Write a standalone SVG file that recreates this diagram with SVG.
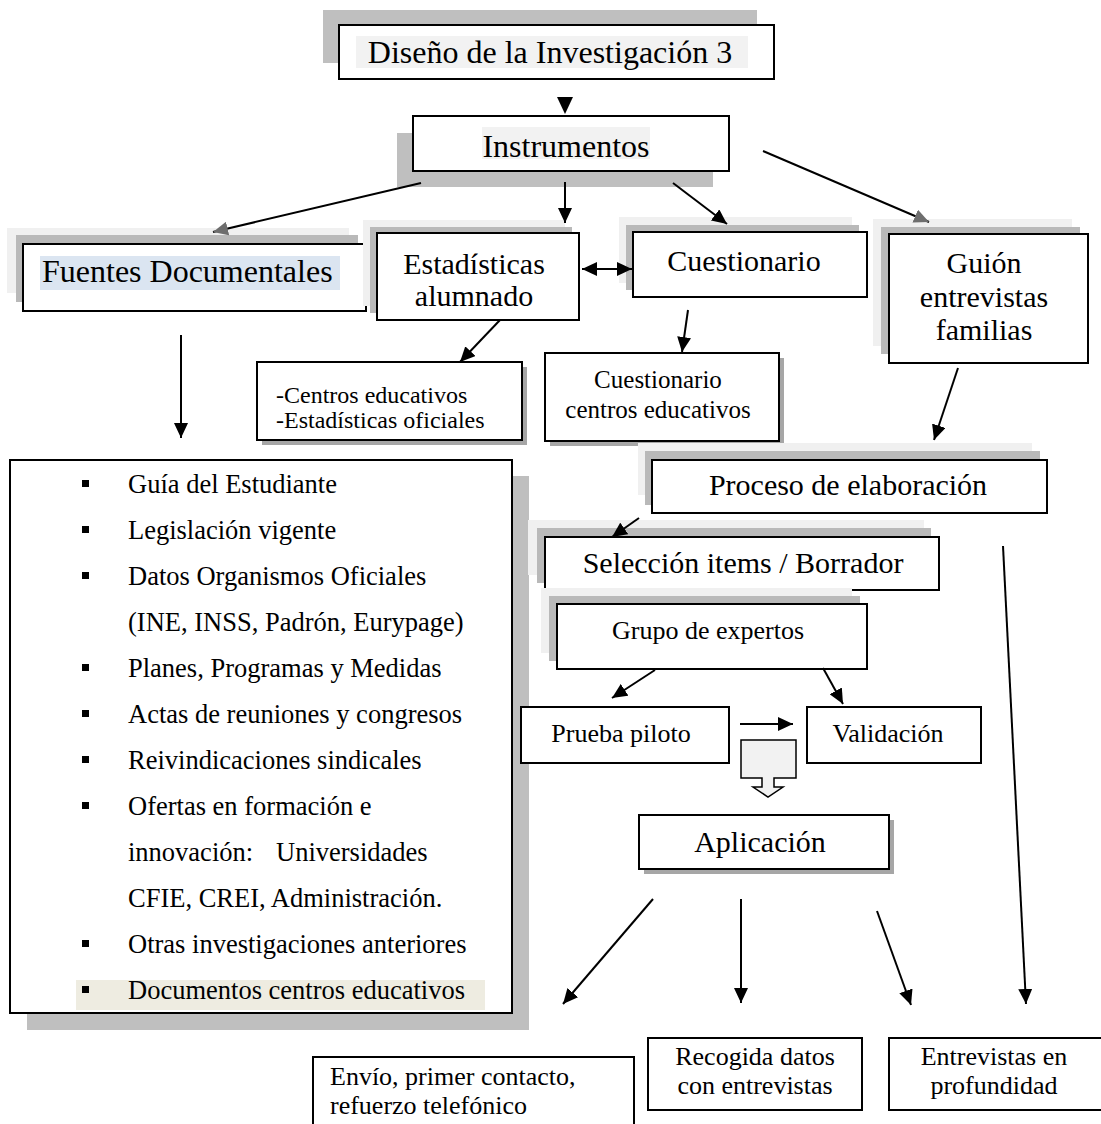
<svg xmlns="http://www.w3.org/2000/svg" width="1101" height="1124" viewBox="0 0 1101 1124">
  <style>
    text { font-family: "Liberation Serif", "Times New Roman", serif; fill: #000; }
    .box { fill: #fff; stroke: #000; stroke-width: 2; }
    .sh-dark { fill: #b9b9b9; }
    .sh-light { fill: #f0f0f0; }
    .sh-drop { fill: #a6a6a6; }
    .t32 { font-size: 32px; }
    .t30 { font-size: 30px; }
    .t26 { font-size: 26px; }
    .t25 { font-size: 25px; }
    .t24 { font-size: 24px; }
    .mid { text-anchor: middle; }
    .edge { fill: none; stroke: #000; stroke-width: 2; }
    .bul { fill: #000; }
  </style>
  <defs>
    <marker id="ah" markerUnits="userSpaceOnUse" markerWidth="16" markerHeight="14" refX="15" refY="7" orient="auto-start-reverse">
      <path d="M0,0 L15,7 L0,14 z" fill="#000"/>
    </marker>
    <marker id="ahGrey" markerUnits="userSpaceOnUse" markerWidth="16" markerHeight="14" refX="15" refY="7" orient="auto">
      <path d="M0,0 L15,7 L0,14 z" fill="#6e6e6e"/>
    </marker>
  </defs>

  <!-- List of documentary sources (drawn first so later boxes sit over its shadow) -->
  <g id="n-lista">
    <rect x="27" y="476" width="502" height="554" fill="#bfbfbf"/>
    <rect class="box" x="10" y="460" width="502" height="553"/>
    <rect x="76" y="980" width="409" height="30" fill="#eeece1"/>
    <g style="font-size:26.5px">
      <rect class="bul" x="82" y="480" width="7" height="7"/>
      <text x="128" y="493">Guía del Estudiante</text>
      <rect class="bul" x="82" y="526" width="7" height="7"/>
      <text x="128" y="539">Legislación vigente</text>
      <rect class="bul" x="82" y="572" width="7" height="7"/>
      <text x="128" y="585">Datos Organismos Oficiales</text>
      <text x="128" y="631">(INE, INSS, Padrón, Eurypage)</text>
      <rect class="bul" x="82" y="664" width="7" height="7"/>
      <text x="128" y="677">Planes, Programas y Medidas</text>
      <rect class="bul" x="82" y="710" width="7" height="7"/>
      <text x="128" y="723">Actas de reuniones y congresos</text>
      <rect class="bul" x="82" y="756" width="7" height="7"/>
      <text x="128" y="769">Reivindicaciones sindicales</text>
      <rect class="bul" x="82" y="802" width="7" height="7"/>
      <text x="128" y="815">Ofertas en formación e</text>
      <text x="128" y="861">innovación:<tspan x="276">Universidades</tspan></text>
      <text x="128" y="907">CFIE, CREI, Administración.</text>
      <rect class="bul" x="82" y="940" width="7" height="7"/>
      <text x="128" y="953">Otras investigaciones anteriores</text>
      <rect class="bul" x="82" y="986" width="7" height="7"/>
      <text x="128" y="999">Documentos centros educativos</text>
    </g>
  </g>

  <!-- Title -->
  <g id="n-diseno">
    <rect x="323" y="10" width="434" height="53" fill="#bfbfbf"/>
    <rect class="box" x="339" y="25" width="435" height="54"/>
    <rect x="356" y="36" width="392" height="32" fill="#f2f2f2"/>
    <text class="t32 mid" x="550" y="63">Diseño de la Investigación 3</text>
  </g>
  <polygon points="557,97 573,97 565,114" fill="#000"/>

  <!-- Instrumentos -->
  <g id="n-instrumentos">
    <rect x="397" y="133" width="316" height="54" fill="#bfbfbf"/>
    <rect class="box" x="413" y="116" width="316" height="55"/>
    <rect x="482" y="127" width="168" height="32" fill="#f2f2f2"/>
    <text class="t32 mid" x="566" y="157">Instrumentos</text>
  </g>

  <!-- Fuentes Documentales -->
  <g id="n-fuentes">
    <rect class="sh-light" x="7" y="228" width="342" height="65"/>
    <rect class="sh-dark" x="16" y="235" width="342" height="67"/>
    <rect class="box" x="23" y="244" width="343" height="67"/>
    <rect x="40" y="256" width="300" height="34" fill="#dbe5f1"/>
    <text class="t32" x="42" y="282">Fuentes Documentales</text>
  </g>

  <!-- Estadísticas alumnado -->
  <g id="n-estadisticas">
    <rect class="sh-light" x="363" y="220" width="202" height="86"/>
    <rect class="sh-dark" x="370" y="227" width="202" height="86"/>
    <rect class="box" x="377" y="233" width="202" height="87"/>
    <text class="t30 mid" x="474" y="274">Estadísticas</text>
    <text class="t30 mid" x="474" y="306">alumnado</text>
  </g>

  <!-- Cuestionario -->
  <g id="n-cuestionario">
    <rect class="sh-light" x="619" y="217" width="233" height="66"/>
    <rect class="sh-dark" x="626" y="225" width="233" height="65"/>
    <rect class="box" x="633" y="232" width="234" height="65"/>
    <text class="t30 mid" x="744" y="271">Cuestionario</text>
  </g>

  <!-- Guión entrevistas familias -->
  <g id="n-guion">
    <rect class="sh-light" x="873" y="219" width="199" height="127"/>
    <rect class="sh-dark" x="881" y="227" width="199" height="127"/>
    <rect class="box" x="889" y="234" width="199" height="129"/>
    <text class="t30 mid" x="984" y="273">Guión</text>
    <text class="t30 mid" x="984" y="307">entrevistas</text>
    <text class="t30 mid" x="984" y="340">familias</text>
  </g>

  <!-- Centros educativos / Estadísticas oficiales -->
  <g id="n-centros-estadisticas">
    <rect class="sh-drop" x="262" y="367" width="265" height="78"/>
    <rect class="box" x="257" y="362" width="265" height="78"/>
    <text class="t24" x="276" y="403">-Centros educativos</text>
    <text class="t24" x="276" y="428">-Estadísticas oficiales</text>
  </g>

  <!-- Cuestionario centros educativos -->
  <g id="n-cuest-centros">
    <rect class="sh-drop" x="550" y="358" width="234" height="88"/>
    <rect class="box" x="545" y="353" width="234" height="88"/>
    <text class="t25 mid" x="658" y="388">Cuestionario</text>
    <text class="t25 mid" x="658" y="418">centros educativos</text>
  </g>

  <!-- Proceso de elaboración -->
  <g id="n-proceso">
    <rect class="sh-light" x="638" y="443" width="394" height="52"/>
    <rect class="sh-dark" x="645" y="451" width="395" height="54"/>
    <rect class="box" x="652" y="460" width="395" height="53"/>
    <text class="t30 mid" x="848" y="495">Proceso de elaboración</text>
  </g>

  <!-- Selección items / Borrador -->
  <g id="n-seleccion">
    <rect class="sh-light" x="528" y="520" width="396" height="55"/>
    <rect class="sh-dark" x="537" y="528" width="394" height="55"/>
    <rect class="box" x="545" y="537" width="394" height="53"/>
    <text class="t30 mid" x="743" y="573">Selección items / Borrador</text>
  </g>

  <!-- Grupo de expertos -->
  <g id="n-grupo">
    <rect class="sh-light" x="541" y="588" width="311" height="65"/>
    <rect class="sh-dark" x="549" y="596" width="311" height="65"/>
    <rect class="box" x="557" y="604" width="310" height="65"/>
    <text class="t26 mid" x="708" y="639">Grupo de expertos</text>
  </g>

  <!-- Prueba piloto -->
  <g id="n-prueba">
    <rect class="box" x="521" y="707" width="208" height="56"/>
    <text class="t26 mid" x="621" y="742">Prueba piloto</text>
  </g>

  <!-- Validación -->
  <g id="n-validacion">
    <rect class="box" x="807" y="707" width="174" height="56"/>
    <text class="t26 mid" x="888" y="742">Validación</text>
  </g>

  <!-- Hollow block arrow -->
  <g id="n-flecha-bloque">
    <polygon points="741,740 796,740 796,778 774,778 774,787 783,787 768,797 753,787 762,787 762,778 741,778" fill="#f2f2f2" stroke="#000" stroke-width="1.5"/>
  </g>

  <!-- Aplicación -->
  <g id="n-aplicacion">
    <rect class="sh-drop" x="644" y="820" width="250" height="54"/>
    <rect class="box" x="639" y="815" width="250" height="54"/>
    <text class="t30 mid" x="760" y="852">Aplicación</text>
  </g>

  <!-- Final outputs -->
  <g id="n-envio">
    <rect class="box" x="313" y="1057" width="321" height="80"/>
    <text class="t26" x="330" y="1085">Envío, primer contacto,</text>
    <text class="t26" x="330" y="1114">refuerzo telefónico</text>
  </g>
  <g id="n-recogida">
    <rect class="box" x="648" y="1038" width="214" height="72"/>
    <text class="t26 mid" x="755" y="1065">Recogida datos</text>
    <text class="t26 mid" x="755" y="1094">con entrevistas</text>
  </g>
  <g id="n-entrevistas">
    <rect class="box" x="889" y="1038" width="216" height="72"/>
    <text class="t26 mid" x="994" y="1065">Entrevistas en</text>
    <text class="t26 mid" x="994" y="1094">profundidad</text>
  </g>

  <!-- Connectors -->
  <g id="connectors">
    <line class="edge" x1="421" y1="183" x2="213" y2="232" marker-end="url(#ahGrey)"/>
    <line class="edge" x1="565" y1="182" x2="565" y2="223" marker-end="url(#ah)"/>
    <line class="edge" x1="673" y1="183" x2="727" y2="224" marker-end="url(#ah)"/>
    <line class="edge" x1="763" y1="151" x2="929" y2="222" marker-end="url(#ahGrey)"/>
    <line class="edge" x1="582" y1="269" x2="632" y2="269" marker-start="url(#ah)" marker-end="url(#ah)"/>
    <line class="edge" x1="181" y1="335" x2="181" y2="438" marker-end="url(#ah)"/>
    <line class="edge" x1="500" y1="320" x2="460" y2="362" marker-end="url(#ah)"/>
    <line class="edge" x1="688" y1="310" x2="682" y2="352" marker-end="url(#ah)"/>
    <line class="edge" x1="958" y1="368" x2="934" y2="440" marker-end="url(#ah)"/>
    <line class="edge" x1="639" y1="518" x2="612" y2="537" marker-end="url(#ah)"/>
    <line class="edge" x1="655" y1="670" x2="612" y2="698" marker-end="url(#ah)"/>
    <line class="edge" x1="823" y1="668" x2="843" y2="704" marker-end="url(#ah)"/>
    <line class="edge" x1="740" y1="724" x2="793" y2="724" marker-end="url(#ah)"/>
    <line class="edge" x1="1003" y1="546" x2="1026" y2="1004" marker-end="url(#ah)"/>
    <line class="edge" x1="653" y1="899" x2="563" y2="1004" marker-end="url(#ah)"/>
    <line class="edge" x1="741" y1="899" x2="741" y2="1003" marker-end="url(#ah)"/>
    <line class="edge" x1="877" y1="911" x2="911" y2="1005" marker-end="url(#ah)"/>
  </g>
</svg>
